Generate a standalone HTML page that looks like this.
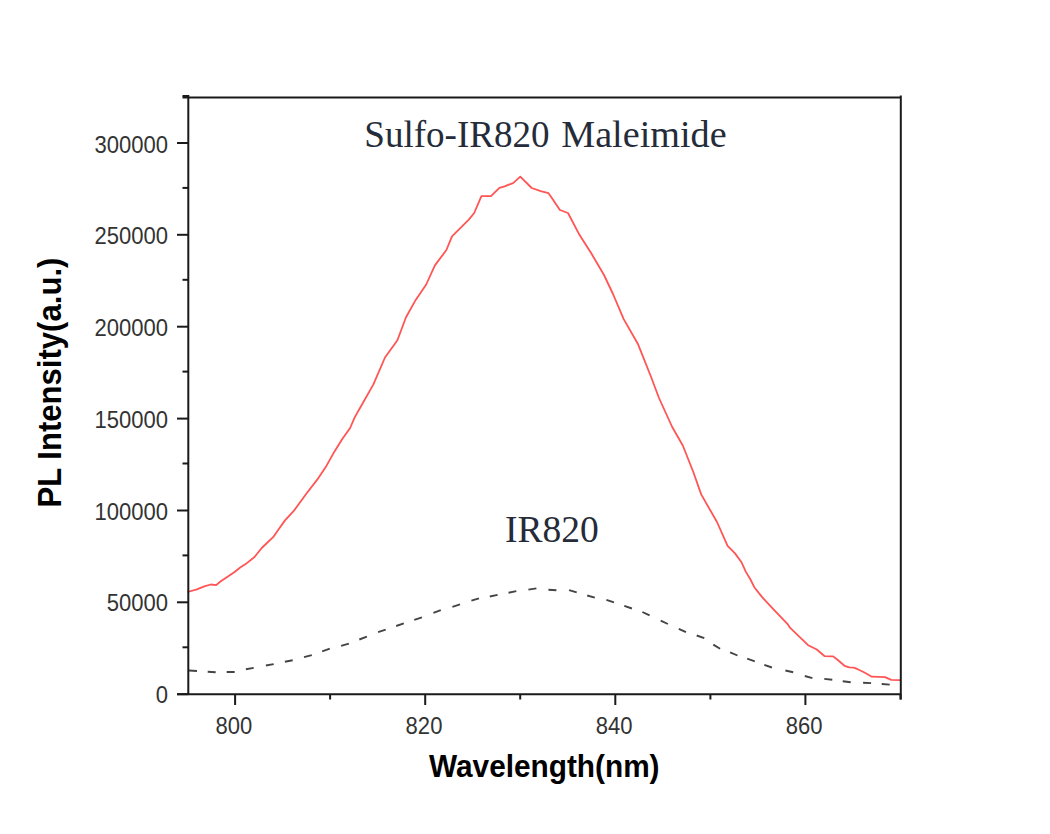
<!DOCTYPE html>
<html><head><meta charset="utf-8"><style>
html,body{margin:0;padding:0;background:#fff;width:1050px;height:834px;overflow:hidden}
svg{display:block}
.tl text{font-family:"Liberation Sans",sans-serif;font-size:24.5px;fill:#333}
</style></head><body>
<svg width="1050" height="834" viewBox="0 0 1050 834">
<rect width="1050" height="834" fill="#fff"/>
<path d="M189.0,670.5L197.0,671.0M207.7,671.7L215.7,672.3M226.7,672.0L234.7,672.0M245.9,669.3L253.7,667.9M265.9,665.5L273.7,664.1M284.9,661.8L292.7,660.2M304.0,657.2L311.8,655.2M322.2,651.3L329.8,648.7M341.1,645.9L348.9,643.7M359.3,639.5L366.9,636.7M378.1,632.2L385.7,629.6M396.2,626.0L403.8,623.4M414.3,619.9L421.9,617.3M433.4,612.9L440.8,610.1M452.4,606.8L460.0,604.4M471.4,600.7L479.0,598.3M489.8,596.5L497.6,594.9M508.5,592.7L516.3,591.1M528.4,589.6L536.4,588.4M548.4,589.8L556.4,590.2M569.1,590.1L576.7,592.4M587.2,595.5L594.8,597.7M606.4,599.8L614.0,602.4M624.3,605.9L631.9,608.5M642.4,612.0L649.6,615.4M660.7,620.6L667.9,624.0M678.8,628.8L686.0,632.2M696.7,635.5L704.3,638.1M713.3,644.6L720.1,648.8M730.1,652.3L737.5,655.5M747.2,658.7L754.8,661.3M764.3,664.8L771.9,667.5M785.4,670.5L793.2,672.3M804.8,676.0L812.4,678.2M824.3,678.9L832.3,679.7M842.7,681.2L850.7,682.2M863.1,682.7L871.1,683.1M881.7,684.0L889.7,684.6" fill="none" stroke="#444" stroke-width="1.9"/>
<polyline points="187.5,592 197,589.3 204.2,586.3 210.8,584.5 216.2,585.1 220.4,581.5 229.4,575.5 234.2,572.3 240.2,567.5 245.6,564.1 254.5,557 261.7,548 273.1,537.2 278.5,529.4 285,520.4 294,510.6 306.5,493.5 317.4,479.4 326.7,465.4 334.5,451.4 342.3,438.9 350.1,428 354.8,417.1 361,406.2 373.4,384.4 385,357.5 397.4,340.2 406,317.2 415.7,299.9 426.2,284.5 434.9,265.4 446.4,250 452,236.3 468.8,219.6 474.2,213 481.4,196.2 491,196.2 499.4,187.8 504.7,186.3 508.3,184.8 513.1,183.2 520.3,176.6 531.7,188 540.7,191.1 548.5,193.2 552.7,199.2 559.9,210 568,213 578.8,233.7 591.4,253.5 604,275 613,294 623.7,319.1 638.1,344.3 651.1,377 659,398 672.2,427 682.8,445.5 693.3,472 701.2,494.4 717,522 727.6,545.8 735,553.4 741.2,561.7 746,572.1 750.2,579 754.3,587.2 761.9,596.9 770.9,606.6 787.4,623.8 790.2,627.9 808.1,645.2 816.4,649.3 824.7,656.2 833.2,656.4 837.5,659.8 844.5,665.8 849.2,667.4 853.8,667.7 857.7,669.2 864,672.3 871.8,676.7 885,677.1 891.3,679.8 900.5,680.1" fill="none" stroke="#ff5555" stroke-width="1.8" stroke-linejoin="round"/>
<g stroke="#1a1a1a" stroke-width="2" fill="none">
<path d="M188.3,95 V695 M182.5,97.6 H901.8 M900.8,95.5 V699.5 M177,694.2 H901.8"/>
<line x1="177" y1="694.2" x2="188.3" y2="694.2"/><line x1="177" y1="602.3" x2="188.3" y2="602.3"/><line x1="177" y1="510.5" x2="188.3" y2="510.5"/><line x1="177" y1="418.6" x2="188.3" y2="418.6"/><line x1="177" y1="326.7" x2="188.3" y2="326.7"/><line x1="177" y1="234.8" x2="188.3" y2="234.8"/><line x1="177" y1="143.0" x2="188.3" y2="143.0"/><line x1="182.5" y1="647.3" x2="188.3" y2="647.3"/><line x1="182.5" y1="555.4" x2="188.3" y2="555.4"/><line x1="182.5" y1="463.5" x2="188.3" y2="463.5"/><line x1="182.5" y1="371.6" x2="188.3" y2="371.6"/><line x1="182.5" y1="279.8" x2="188.3" y2="279.8"/><line x1="182.5" y1="187.9" x2="188.3" y2="187.9"/><line x1="182.5" y1="96.0" x2="188.3" y2="96.0"/><line x1="235.1" y1="694" x2="235.1" y2="705"/><line x1="425.2" y1="694" x2="425.2" y2="705"/><line x1="615.3" y1="694" x2="615.3" y2="705"/><line x1="805.4" y1="694" x2="805.4" y2="705"/><line x1="330.1" y1="694" x2="330.1" y2="699.5"/><line x1="520.2" y1="694" x2="520.2" y2="699.5"/><line x1="710.4" y1="694" x2="710.4" y2="699.5"/><line x1="900.5" y1="694" x2="900.5" y2="699.5"/>
</g>
<g class="tl" text-anchor="end">
<text transform="translate(168,702.6) scale(0.9,1)">0</text><text transform="translate(168,611.1) scale(0.9,1)">50000</text><text transform="translate(168,520.1) scale(0.9,1)">100000</text><text transform="translate(168,428.0) scale(0.9,1)">150000</text><text transform="translate(168,335.7) scale(0.9,1)">200000</text><text transform="translate(168,243.6) scale(0.9,1)">250000</text><text transform="translate(168,153.0) scale(0.9,1)">300000</text>
</g>
<g class="tl" text-anchor="middle">
<text transform="translate(233.9,734.2) scale(0.9,1)">800</text><text transform="translate(424.0,734.2) scale(0.9,1)">820</text><text transform="translate(614.1,734.2) scale(0.9,1)">840</text><text transform="translate(804.2,734.2) scale(0.9,1)">860</text>
</g>
<text x="364.3" y="147.4" font-family="'Liberation Serif', serif" font-size="38" fill="#252c39" textLength="185.3" lengthAdjust="spacingAndGlyphs">Sulfo-IR820</text><text x="561.2" y="147.4" font-family="'Liberation Serif', serif" font-size="38" fill="#252c39" textLength="165.4" lengthAdjust="spacingAndGlyphs">Maleimide</text>
<text x="505" y="542.2" font-family="'Liberation Serif', serif" font-size="37.5" fill="#252c39">IR820</text>
<text transform="translate(429,777) scale(1,1.06)" font-family="'Liberation Sans', sans-serif" font-weight="bold" font-size="29.8" fill="#000">Wavelength(nm)</text>
<text transform="translate(61,507.5) rotate(-90) scale(1,1.06)" x="0" y="0" font-family="'Liberation Sans', sans-serif" font-weight="bold" font-size="31.1" fill="#000">PL Intensity(a.u.)</text>
</svg>
</body></html>
